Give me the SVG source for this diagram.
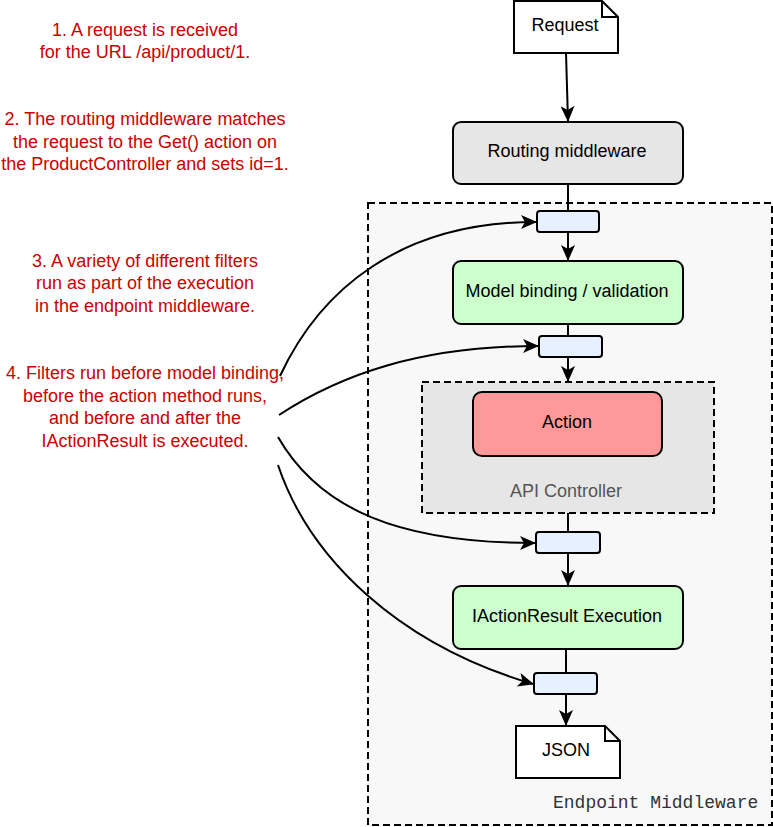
<svg xmlns="http://www.w3.org/2000/svg" width="773" height="827" viewBox="0 0 773 827">
<style>
.box{stroke:#000;stroke-width:2}
.lbl{font-family:"Liberation Sans",Arial,sans-serif;font-size:18px;fill:#000;text-anchor:middle}
.note{font-family:"Liberation Sans",Arial,sans-serif;font-size:18px;fill:#cc0000;text-anchor:middle}
.filter{fill:#e6f0fe;stroke:#000;stroke-width:2}
.conn{fill:none;stroke:#000;stroke-width:2}
</style>
<defs>
<marker id="arr" viewBox="0 0 16 14" refX="15" refY="7" markerWidth="16" markerHeight="14" markerUnits="userSpaceOnUse" orient="auto">
<path d="M0,0 L16,7 L0,14 L4,7 Z" fill="#000"/>
</marker>
</defs>
<rect width="773" height="827" fill="#fff"/>

<g id="endpoint-middleware">
<rect x="368" y="203" width="404" height="622" fill="#f8f8f8" stroke="#000" stroke-width="2" stroke-dasharray="7 4"/>
<text x="553" y="808" font-family="'Liberation Mono','Courier New',monospace" font-size="18" fill="#333">Endpoint Middleware</text>
</g>

<g id="notes">
<text class="note" x="145" y="36">1. A request is received</text>
<text class="note" x="145" y="58">for the URL /api/product/1.</text>
<text class="note" x="145" y="125">2. The routing middleware matches</text>
<text class="note" x="145" y="148">the request to the Get() action on</text>
<text class="note" x="145" y="170">the ProductController and sets id=1.</text>
<text class="note" x="145" y="267">3. A variety of different filters</text>
<text class="note" x="145" y="289">run as part of the execution</text>
<text class="note" x="145" y="312">in the endpoint middleware.</text>
<text class="note" x="145" y="379">4. Filters run before model binding,</text>
<text class="note" x="145" y="402">before the action method runs,</text>
<text class="note" x="145" y="424">and before and after the</text>
<text class="note" x="145" y="447">IActionResult is executed.</text>
</g>

<g id="request">
<path class="box" fill="#fff" d="M514,1 H602 L618,17 V53 H514 Z"/>
<path d="M602,1 V17 H618" fill="none" stroke="#000" stroke-width="2"/>
<text class="lbl" x="565" y="31">Request</text>
</g>

<g id="routing">
<rect class="box" x="453" y="122" width="230" height="62" rx="8" fill="#e6e6e6"/>
<text class="lbl" x="567" y="157">Routing middleware</text>
</g>

<g id="filter1"><rect class="filter" x="537" y="211" width="62" height="21" rx="3"/></g>

<g id="model-binding">
<rect class="box" x="453" y="261" width="230" height="63" rx="8" fill="#ccffcc"/>
<text class="lbl" x="567" y="297">Model binding / validation</text>
</g>

<g id="filter2"><rect class="filter" x="539" y="336" width="63" height="21" rx="3"/></g>

<g id="api-controller">
<rect x="422" y="382" width="292" height="131" fill="#e6e6e6" stroke="#000" stroke-width="2" stroke-dasharray="7 4"/>
<text class="lbl" x="566" y="497" style="fill:#555">API Controller</text>
</g>

<g id="action">
<rect class="box" x="473" y="392" width="189" height="64" rx="9" fill="#ff9999"/>
<text class="lbl" x="567" y="428">Action</text>
</g>

<g id="filter3"><rect class="filter" x="536" y="532" width="64" height="21" rx="3"/></g>

<g id="iactionresult">
<rect class="box" x="453" y="586" width="230" height="63" rx="8" fill="#ccffcc"/>
<text class="lbl" x="567" y="622">IActionResult Execution</text>
</g>

<g id="filter4"><rect class="filter" x="534" y="673" width="63" height="21" rx="3"/></g>

<g id="json">
<path class="box" fill="#fff" d="M516,726 H605 L620,741 V778 H516 Z"/>
<path d="M605,726 V741 H620" fill="none" stroke="#000" stroke-width="2"/>
<text class="lbl" x="566" y="756">JSON</text>
</g>

<g id="connectors">
<path class="conn" d="M566,53 L568,121" marker-end="url(#arr)"/>
<path class="conn" d="M568,184 V211"/>
<path class="conn" d="M568,232 V260" marker-end="url(#arr)"/>
<path class="conn" d="M568,324 V336"/>
<path class="conn" d="M568,357 V381" marker-end="url(#arr)"/>
<path class="conn" d="M568,513 V532"/>
<path class="conn" d="M568,553 V585" marker-end="url(#arr)"/>
<path class="conn" d="M566,649 V673"/>
<path class="conn" d="M566,694 V725" marker-end="url(#arr)"/>
<path class="conn" d="M280,376 C320,290 400,222 536,222" marker-end="url(#arr)"/>
<path class="conn" d="M279,415 C340,375 420,346 538,346" marker-end="url(#arr)"/>
<path class="conn" d="M278,437 C320,510 400,543 535,543" marker-end="url(#arr)"/>
<path class="conn" d="M278,465 C310,560 400,645 533,684" marker-end="url(#arr)"/>
</g>
</svg>
